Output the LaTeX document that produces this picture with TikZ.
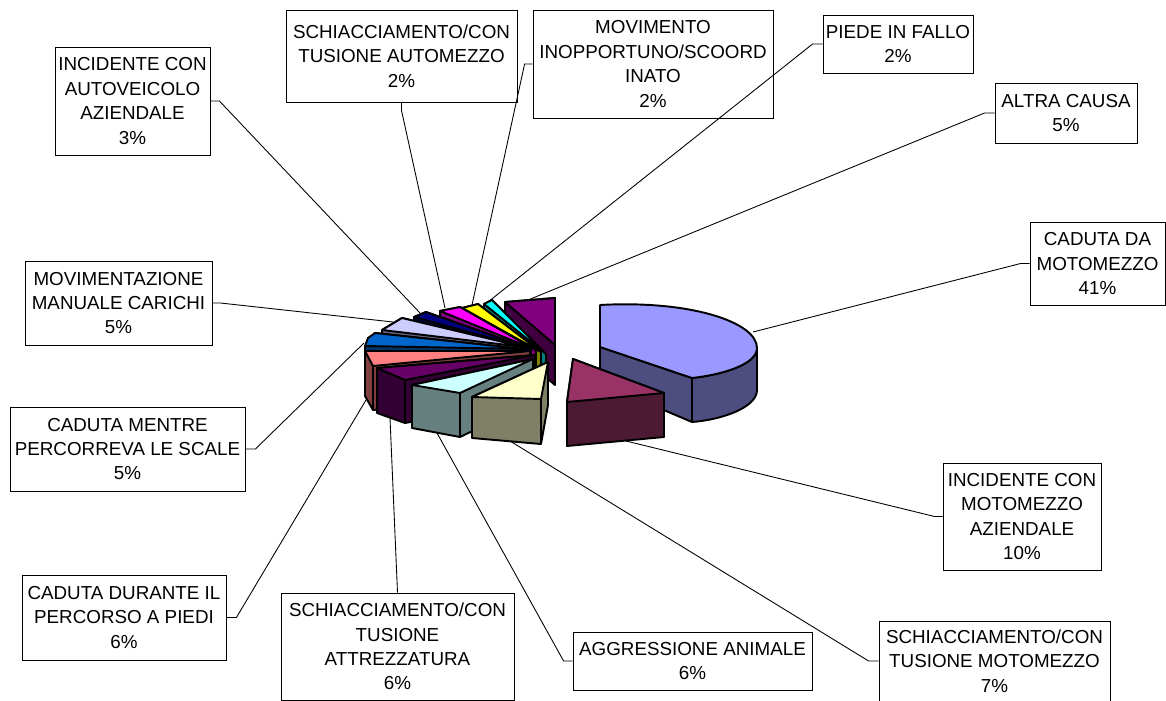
\documentclass[tikz,border=0pt]{standalone}
\usepackage{fontspec}
\setmainfont{Liberation Sans}

\definecolor{topA}{HTML}{9999FF}\definecolor{sideA}{HTML}{4D4D80}
\definecolor{topB}{HTML}{993366}\definecolor{sideB}{HTML}{4D1A33}
\definecolor{topC}{HTML}{FFFFCC}\definecolor{sideC}{HTML}{808066}
\definecolor{topD}{HTML}{CCFFFF}\definecolor{sideD}{HTML}{668080}
\definecolor{topE}{HTML}{660066}\definecolor{sideE}{HTML}{330033}
\definecolor{topF}{HTML}{FF8080}\definecolor{sideF}{HTML}{804040}
\definecolor{topG}{HTML}{0066CC}\definecolor{sideG}{HTML}{003366}
\definecolor{topH}{HTML}{CCCCFF}\definecolor{sideH}{HTML}{666680}
\definecolor{topI}{HTML}{000080}\definecolor{sideI}{HTML}{000040}
\definecolor{topJ}{HTML}{FF00FF}\definecolor{sideJ}{HTML}{800080}
\definecolor{topK}{HTML}{FFFF00}\definecolor{sideK}{HTML}{808000}
\definecolor{topL}{HTML}{00FFFF}\definecolor{sideL}{HTML}{008080}
\definecolor{topM}{HTML}{800080}\definecolor{sideM}{HTML}{400040}

\tikzset{
	lbl/.style={draw, line width=0.5pt, align=center, inner sep=0pt,
		font=\fontsize{10.7}{13.9}\selectfont},
	leader/.style={line width=0.5pt},
	pie/.style={draw=black, line width=1.1pt, line join=round},
}

\begin{document}
\begin{tikzpicture}[x=0.02cm, y=-0.02cm]
	\useasboundingbox (0,0) rectangle (1166,700);
	% Tortenstuecke hinten
	\filldraw[pie, fill=sideM] (505,302) -- (555,298) -- (555,385) -- (505,342) -- cycle;
	\filldraw[pie, fill=topM] (505,302) -- (555,298) -- (555,345) -- cycle;
	\filldraw[pie, fill=sideL] (484,304) -- (492,300) -- (546,354) -- (546,396) -- (484,346) -- cycle;
	\filldraw[pie, fill=topL] (484,304) -- (492,300) -- (546,354) -- cycle;
	\filldraw[pie, fill=sideK] (462,308) -- (478,304) -- (541,352) -- (541,394) -- (462,350) -- cycle;
	\filldraw[pie, fill=topK] (462,308) -- (478,304) -- (541,352) -- cycle;
	\filldraw[pie, fill=sideJ] (440,311) -- (460,307) -- (536,350) -- (536,392) -- (440,353) -- cycle;
	\filldraw[pie, fill=topJ] (440,311) -- (460,307) -- (536,350) -- cycle;
	\filldraw[pie, fill=sideI] (414,317) -- (426,312) -- (531,349) -- (531,391) -- (414,359) -- cycle;
	\filldraw[pie, fill=topI] (414,317) -- (426,312) -- (531,349) -- cycle;
	\filldraw[pie, fill=sideH] (382,330) -- (402,318) -- (524,347) -- (524,389) -- (382,372) -- cycle;
	\filldraw[pie, fill=topH] (382,330) -- (402,318) -- (524,347) -- cycle;
	\filldraw[pie, fill=sideG] (365,346) -- (375,333) -- (524,349) -- (524,392) -- (365,390) -- cycle;
	\filldraw[pie, fill=topG] (365,346) -- (368,338) -- (375,333) -- (524,349) -- cycle;
	% Tortenstuecke vorne
	\filldraw[pie, fill=sideF] (365,351) -- (530,351) -- (530,395) -- (373,410) -- (365,396) -- cycle;
	\draw[pie] (373,366) -- (373,410);
	\filldraw[pie, fill=topF] (365,351) -- (530,351) -- (373,366) -- cycle;
	\filldraw[pie, fill=sideE] (377,368) -- (535,355) -- (535,399) -- (405,423) -- (377,413) -- cycle;
	\draw[pie] (405,380) -- (405,423);
	\filldraw[pie, fill=topE] (377,368) -- (535,355) -- (405,380) -- cycle;
	\filldraw[pie, fill=sideD] (412,385) -- (533,359) -- (533,402) -- (460,437) -- (412,428) -- cycle;
	\draw[pie] (460,393) -- (460,437);
	\filldraw[pie, fill=topD] (412,385) -- (533,359) -- (460,393) -- cycle;
	\filldraw[pie, fill=sideC] (472,397) -- (548,362) -- (548,405) -- (541,444) -- (472,438) -- cycle;
	\draw[pie] (541,399) -- (541,444);
	\filldraw[pie, fill=topC] (472,397) -- (548,362) -- (541,399) -- cycle;
	% abgesetzte Stuecke
	\filldraw[pie, fill=sideA] (600,347) -- (692,378) .. controls (720,375) and (757,365) .. (757,348)
		-- (757,390) .. controls (757,408) and (720,420) .. (692,422) -- (600,383) -- cycle;
	\draw[pie] (692,378) -- (692,422);
	\filldraw[pie, fill=topA] (600,305) .. controls (690,300) and (757,322) .. (757,348)
		.. controls (757,365) and (720,375) .. (692,378) -- (600,347) -- cycle;
	\filldraw[pie, fill=sideB] (567,402) -- (573,359) -- (664,393) -- (664,437) -- (567,446) -- cycle;
	\filldraw[pie, fill=topB] (567,402) -- (573,359) -- (664,393) -- cycle;
	% Ankerpunkte
	\coordinate (p-motomez) at (753,332);
	\coordinate (p-incmoto) at (626,441);
	\coordinate (p-schmoto) at (510,441);
	\coordinate (p-aggress) at (437,433);
	\coordinate (p-attrezz) at (390,418);
	\coordinate (p-piedi) at (366,400);
	\coordinate (p-scale) at (364,343);
	\coordinate (p-moviment) at (393,322);
	\coordinate (p-autov) at (420,313);
	\coordinate (p-automez) at (445,308);
	\coordinate (p-movim) at (472,305);
	\coordinate (p-piede) at (488,302);
	\coordinate (p-altra) at (528,300);
	% Beschriftungen
	\node[lbl, minimum width=3.1cm, minimum height=2.16cm] (autov) at (132.5,101)
		{INCIDENTE CON\\AUTOVEICOLO\\AZIENDALE\\3\%};
	\node[lbl, minimum width=4.62cm, minimum height=1.84cm] (automez) at (401.5,56)
		{SCHIACCIAMENTO/CON\\TUSIONE AUTOMEZZO\\2\%};
	\node[lbl, minimum width=4.8cm, minimum height=2.16cm] (movim) at (653,64)
		{MOVIMENTO\\INOPPORTUNO/SCOORD\\INATO\\2\%};
	\node[lbl, minimum width=3cm, minimum height=1.16cm] (piede) at (898,44)
		{PIEDE IN FALLO\\2\%};
	\node[lbl, minimum width=2.84cm, minimum height=1.2cm] (altra) at (1066,113)
		{ALTRA CAUSA\\5\%};
	\node[lbl, minimum width=2.7cm, minimum height=1.66cm] (motomez) at (1097.5,263.5)
		{CADUTA DA\\MOTOMEZZO\\41\%};
	\node[lbl, minimum width=3.74cm, minimum height=1.68cm] (moviment) at (118.5,303)
		{MOVIMENTAZIONE\\MANUALE CARICHI\\5\%};
	\node[lbl, minimum width=4.7cm, minimum height=1.68cm] (scale) at (127.5,449)
		{CADUTA MENTRE\\PERCORREVA LE SCALE\\5\%};
	\node[lbl, minimum width=4.08cm, minimum height=1.7cm] (piedi) at (124,617.5)
		{CADUTA DURANTE IL\\PERCORSO A PIEDI\\6\%};
	\node[lbl, minimum width=4.66cm, minimum height=2.14cm] (attrezz) at (397.5,646.5)
		{SCHIACCIAMENTO/CON\\TUSIONE\\ATTREZZATURA\\6\%};
	\node[lbl, minimum width=4.78cm, minimum height=1.16cm] (aggress) at (692.5,661)
		{AGGRESSIONE ANIMALE\\6\%};
	\node[lbl, minimum width=3.16cm, minimum height=2.14cm] (incmoto) at (1022,516.5)
		{INCIDENTE CON\\MOTOMEZZO\\AZIENDALE\\10\%};
	\node[lbl, minimum width=4.62cm, minimum height=1.6cm] (schmoto) at (994.5,661)
		{SCHIACCIAMENTO/CON\\TUSIONE MOTOMEZZO\\7\%};
	% Verbindungslinien
	\draw[leader] (p-autov) -- ([xshift=0.18cm]autov.east) -- (autov.east);
	\draw[leader] (p-automez) -- ([yshift=-0.16cm]automez.south) -- (automez.south);
	\draw[leader] (p-movim) -- ([xshift=-0.16cm]movim.west) -- (movim.west);
	\draw[leader] (p-piede) -- ([xshift=-0.2cm]piede.west) -- (piede.west);
	\draw[leader] (p-altra) -- ([xshift=-0.2cm]altra.west) -- (altra.west);
	\draw[leader] (p-motomez) -- ([xshift=-0.18cm]motomez.west) -- (motomez.west);
	\draw[leader] (p-moviment) -- ([xshift=0.16cm]moviment.east) -- (moviment.east);
	\draw[leader] (p-scale) -- ([xshift=0.2cm]scale.east) -- (scale.east);
	\draw[leader] (p-piedi) -- ([xshift=0.2cm]piedi.east) -- (piedi.east);
	\draw[leader] (p-attrezz) -- (attrezz.north);
	\draw[leader] (p-aggress) -- ([xshift=-0.18cm]aggress.west) -- (aggress.west);
	\draw[leader] (p-incmoto) -- ([xshift=-0.16cm]incmoto.west) -- (incmoto.west);
	\draw[leader] (p-schmoto) -- ([xshift=-0.2cm]schmoto.west) -- (schmoto.west);
\end{tikzpicture}
\end{document}
